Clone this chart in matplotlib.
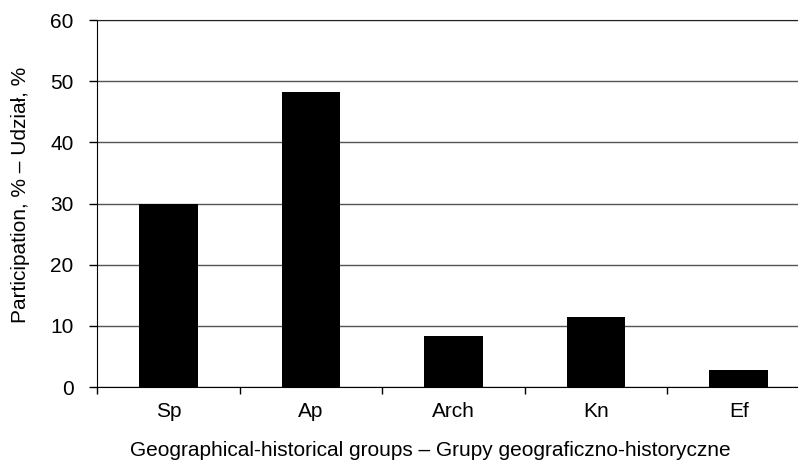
import numpy as np
import matplotlib
matplotlib.use("Agg")
import matplotlib.pyplot as plt

groups = ["Sp", "Ap", "Arch", "Kn", "Ef"]
share = [29.9, 48.2, 8.4, 11.4, 2.8]

plt.rcParams["font.family"] = ["Liberation Sans", "DejaVu Sans"]
FS = 15

fig = plt.figure(figsize=(7.98, 4.65), dpi=100)
# plot area runs a bit past the right edge, like the original crop
ax = fig.add_axes([97 / 798, 1 - 387 / 465, 713 / 798, 367 / 465])

x = np.arange(len(groups))
ax.bar(x, share, width=0.41, color="black", zorder=3)

ax.set_xlim(-0.5, len(groups) - 0.5)
ax.set_ylim(0, 60)
ax.set_yticks(range(0, 61, 10))
ax.yaxis.grid(True, color="#555555", lw=1.0, zorder=0)

ax.set_xticks(x)
ax.set_xticklabels(groups)
ax.set_xticks(np.arange(-0.5, len(groups), 1.0), minor=True)
ax.tick_params(axis="x", which="major", length=0, pad=11, labelsize=FS)
ax.tick_params(axis="x", which="minor", length=5, width=1, direction="out")
ax.tick_params(axis="y", length=5.8, width=1, direction="out", pad=11, labelsize=FS)

ax.spines["right"].set_visible(False)
ax.spines["top"].set_color("#222222")

ax.set_ylabel("Participation, % – Udział, %", fontsize=FS)
ax.yaxis.set_label_coords(-67 / 713, (387 - 195) / 367)
ax.set_xlabel("Geographical-historical groups – Grupy geograficzno-historyczne",
              fontsize=FS)
ax.xaxis.set_label_coords((430 - 97) / 713, -54 / 367)

fig.savefig("out.png", dpi=100)
